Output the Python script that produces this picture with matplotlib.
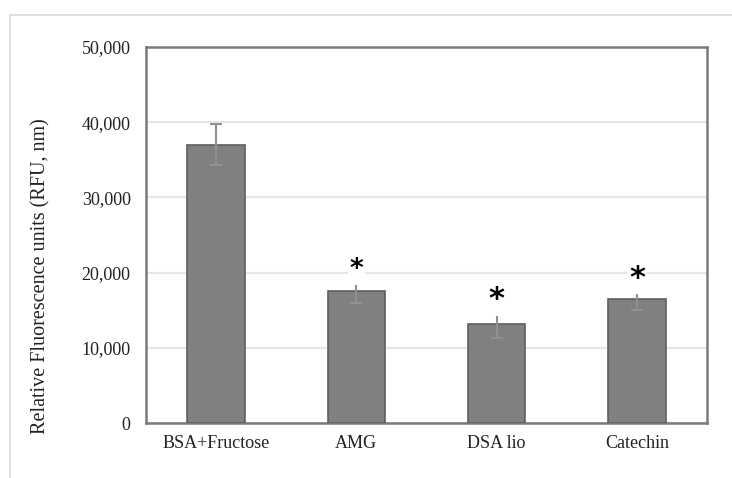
import numpy as np
from matplotlib import pyplot as plt
from matplotlib.patches import Rectangle
from matplotlib.ticker import FuncFormatter

# Fluorescence of AGE products per treatment
groups = ['BSA+Fructose', 'AMG', 'DSA lio', 'Catechin']
means = [37000, 17500, 13200, 16500]
errors = [2700, 1500, 1900, 1450]
significant = [False, True, True, True]
star_sizes = [0, 19, 22, 22]

plt.rcParams['font.family'] = ['Liberation Serif', 'DejaVu Serif']

fig = plt.figure(figsize=(7.32, 4.78), dpi=100)
ax = fig.add_axes([146 / 732, 1 - 423 / 478, (707 - 146) / 732, (423 - 47) / 478])

# light frame around the whole chart area
fig.patches.append(Rectangle((10 / 732, -0.1), 1.1, 1 - 15 / 478 + 0.1,
                             transform=fig.transFigure, fill=False,
                             edgecolor='#d9d9d9', linewidth=1.2))

x = np.arange(len(groups))
ax.bar(x, means, width=0.41, color='#808080', edgecolor='#5f5f5f',
       linewidth=1.2, zorder=3)
ax.errorbar(x, means, yerr=errors, fmt='none', ecolor='#909090',
            elinewidth=1.5, capsize=4, capthick=1.5, zorder=4)

for xi, m, e, sig, fs in zip(x, means, errors, significant, star_sizes):
    if sig:
        ax.text(xi, m + e + 1300, '*', ha='center', va='center',
                fontsize=fs, fontweight='bold', family='DejaVu Sans',
                color='black', zorder=5,
                bbox=dict(boxstyle='square,pad=0.05', fc='white', ec='none'))

ax.set_xlim(-0.5, len(groups) - 0.5)
ax.set_ylim(0, 50000)
ax.set_yticks(np.arange(0, 50001, 10000))
ax.yaxis.set_major_formatter(FuncFormatter(lambda v, p: f'{int(v):,}'))
ax.set_xticks(x)
ax.set_xticklabels(groups)
ax.tick_params(axis='both', length=0, labelsize=13, colors='#222222')
ax.tick_params(axis='x', pad=9)
ax.tick_params(axis='y', pad=11)

ax.grid(axis='y', color='#e6e6e6', linewidth=1.5, zorder=0)
ax.set_axisbelow(True)
for s in ax.spines.values():
    s.set_color('#7a7a7a')
    s.set_linewidth(1.8)

ax.set_ylabel('Relative Fluorescence units (RFU, nm)', fontsize=14.5,
              color='#222222')
ax.yaxis.set_label_coords(-0.171, 0.39)

fig.savefig('out.png', dpi=100)
